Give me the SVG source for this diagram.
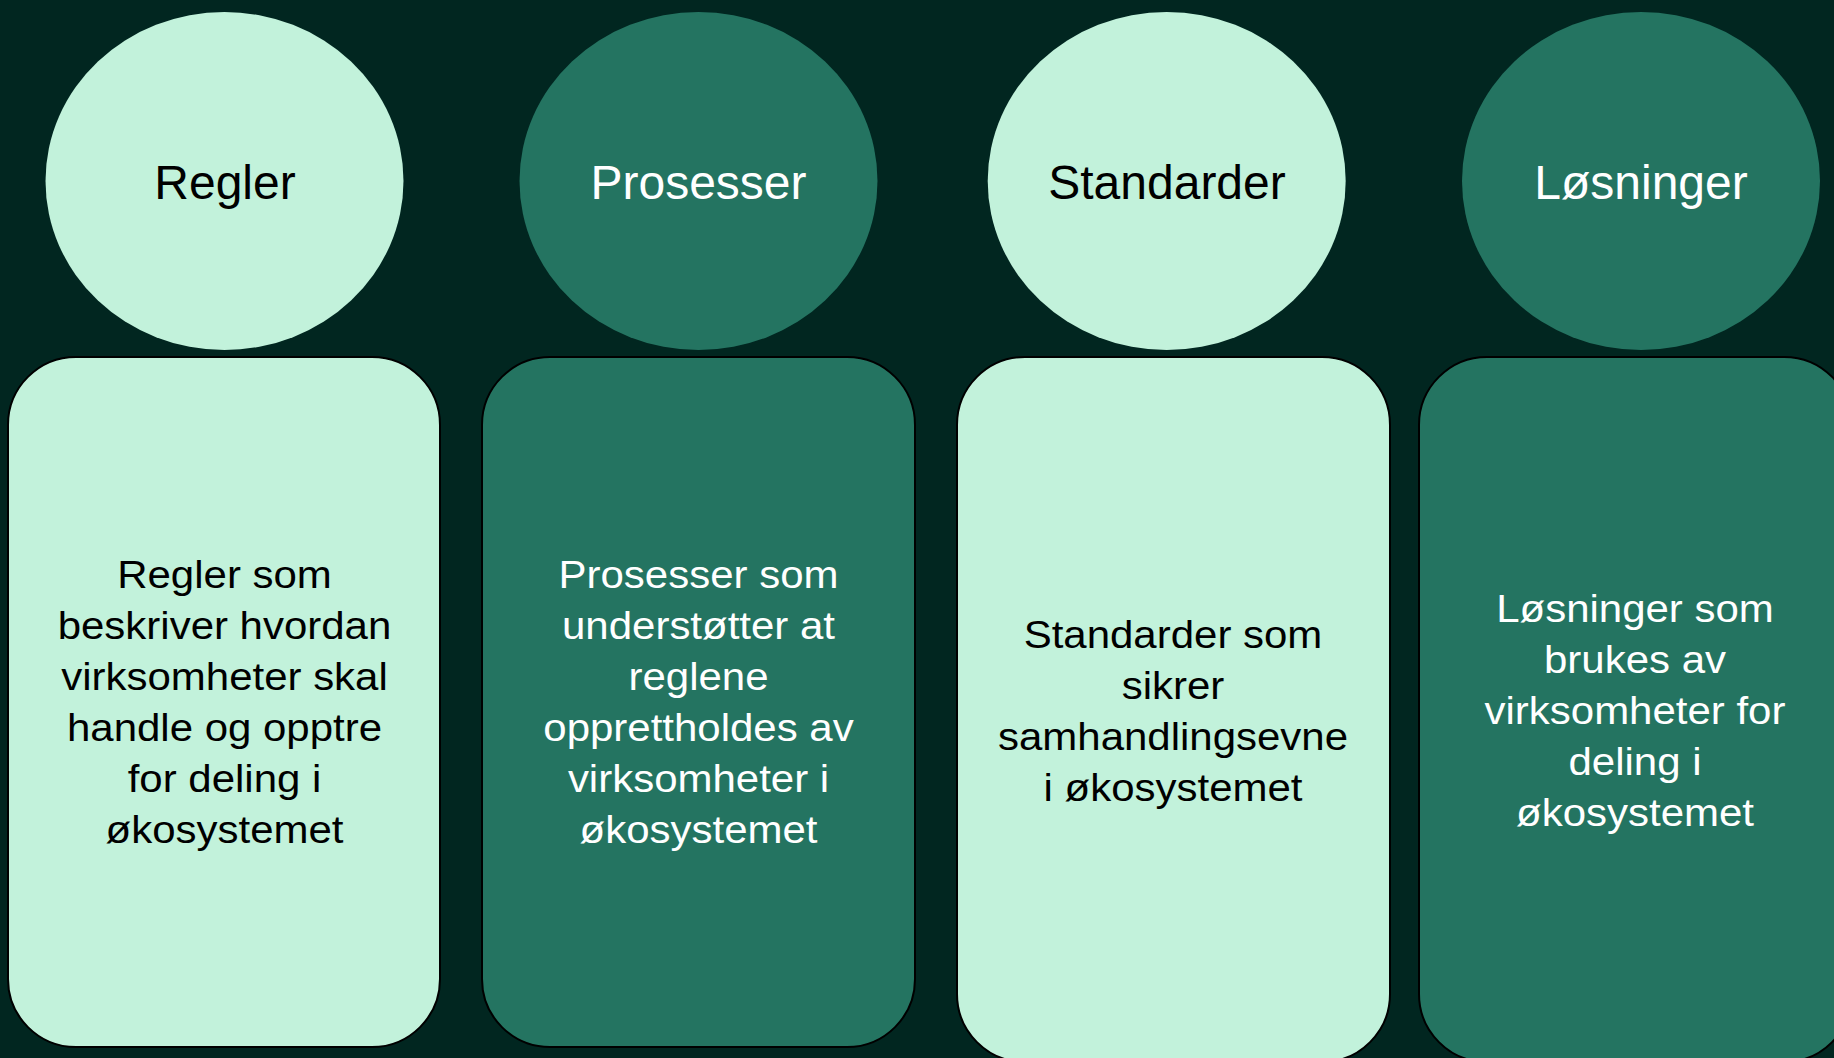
<svg xmlns="http://www.w3.org/2000/svg" width="1834" height="1058" viewBox="0 0 1834 1058">
<style>
.light{fill:#C2F2DB}
.dark{fill:#247461}
.box{stroke:#000;stroke-width:2}
.t{font-family:"Liberation Sans",Arial,sans-serif;text-anchor:middle}
.title{font-size:48px}
.body{font-size:38px}
.tl{fill:#000}
.td{fill:#fff}
</style>
<rect width="1834" height="1058" fill="#012620"/>
<g id="connectors"/>
<g id="regler">
<ellipse class="light" cx="224.5" cy="181" rx="179" ry="169"/>
<text class="t title tl" x="225" y="199">Regler</text>
</g>
<g id="prosesser">
<ellipse class="dark" cx="698.5" cy="181" rx="179" ry="169"/>
<text class="t title td" x="698.5" y="199">Prosesser</text>
</g>
<g id="standarder">
<ellipse class="light" cx="1166.7" cy="181" rx="179" ry="169"/>
<text class="t title tl" x="1167" y="199">Standarder</text>
</g>
<g id="losninger">
<ellipse class="dark" cx="1641" cy="181" rx="179" ry="169"/>
<text class="t title td" x="1641" y="199">Løsninger</text>
</g>
<g id="regler-box">
<rect class="light box" x="8" y="357" width="432" height="690" rx="68" ry="68"/>
<g transform="translate(224.5,-1.5) scale(1.105,1)">
<text class="t body tl" x="0" y="590">Regler som</text>
<text class="t body tl" x="0" y="641">beskriver hvordan</text>
<text class="t body tl" x="0" y="692">virksomheter skal</text>
<text class="t body tl" x="0" y="743">handle og opptre</text>
<text class="t body tl" x="0" y="794">for deling i</text>
<text class="t body tl" x="0" y="845">økosystemet</text>
</g>
</g>
<g id="prosesser-box">
<rect class="dark box" x="482" y="357" width="433" height="690" rx="68" ry="68"/>
<g transform="translate(698.5,-1.5) scale(1.105,1)">
<text class="t body td" x="0" y="590">Prosesser som</text>
<text class="t body td" x="0" y="641">understøtter at</text>
<text class="t body td" x="0" y="692">reglene</text>
<text class="t body td" x="0" y="743">opprettholdes av</text>
<text class="t body td" x="0" y="794">virksomheter i</text>
<text class="t body td" x="0" y="845">økosystemet</text>
</g>
</g>
<g id="standarder-box">
<rect class="light box" x="957" y="357" width="433" height="705" rx="68" ry="68"/>
<g transform="translate(1173,-1.5) scale(1.105,1)">
<text class="t body tl" x="0" y="650">Standarder som</text>
<text class="t body tl" x="0" y="701">sikrer</text>
<text class="t body tl" x="0" y="752">samhandlingsevne</text>
<text class="t body tl" x="0" y="803">i økosystemet</text>
</g>
</g>
<g id="losninger-box">
<rect class="dark box" x="1419" y="357" width="433" height="705" rx="68" ry="68"/>
<g transform="translate(1635,-1.5) scale(1.105,1)">
<text class="t body td" x="0" y="624">Løsninger som</text>
<text class="t body td" x="0" y="675">brukes av</text>
<text class="t body td" x="0" y="726">virksomheter for</text>
<text class="t body td" x="0" y="777">deling i</text>
<text class="t body td" x="0" y="828">økosystemet</text>
</g>
</g>
</svg>
